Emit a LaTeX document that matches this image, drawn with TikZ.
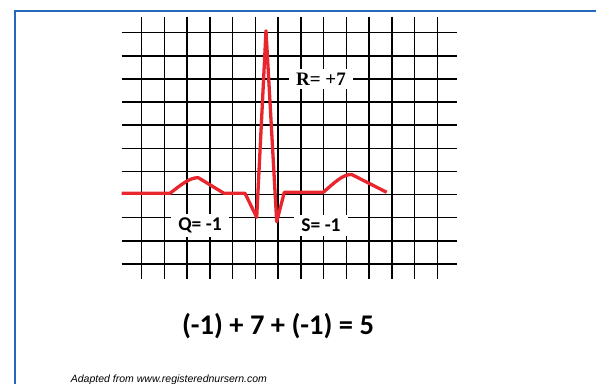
\documentclass[tikz,border=0pt]{standalone}
\usepackage{fontspec}
\usetikzlibrary{calc}
\newfontfamily\calib{Carlito}
\newfontfamily\timesf{Liberation Serif}
\newfontfamily\arialf{Liberation Sans}
\definecolor{ecgR}{RGB}{232,38,45}
\definecolor{frameB}{RGB}{38,104,186}

\begin{document}
\begin{tikzpicture}[x=1pt,y=-1pt,lbl/.style={fill=white,inner xsep=7pt,inner ysep=4pt}]
\useasboundingbox (0,0) rectangle (596,383);
\clip (0,0) rectangle (596,383);
% page frame
\draw[frameB,line width=1.6] (14.7,390)--(14.7,10.7)--(600,10.7);
% grid paper
\foreach \i in {0,...,13}
  \draw[line width=1.5] ({141.7+22.74*\i},16.7)--({141.7+22.74*\i},279);
\foreach \j in {0,...,10}
  \draw[line width=1.5] (121.7,{32.7+23.13*\j})--(456.7,{32.7+23.13*\j});
% P, QRS, T
\draw[ecgR,line width=3.3,line join=round] (121.7,193.3)--(170,193.3)
  .. controls (182,184) and (190,177.5) .. (198.3,177.7)--(224,193.3)--(245,193.3)
  --(256.7,217.3)--(266,30.7)--(276.7,221.7)--(284.3,192.3)--(323.3,192.3)
  .. controls (334,183) and (343,174) .. (351.7,174.5)--(386.7,192.3);
\node[lbl,font=\timesf\bfseries\fontsize{19}{22}\selectfont] (rlab) at (321,79) {R= +7};
\node[lbl,font=\calib\bfseries\fontsize{19.5}{22}\selectfont] (qlab) at (200,225.5) {Q= -1};
\node[lbl,font=\calib\bfseries\fontsize{19.5}{22}\selectfont] (slab) at (321,225.5) {S= -1};
\node[font=\calib\bfseries\fontsize{28.5}{32}\selectfont,anchor=base] (sum) at (278,334.3) {(-1) + 7 + (-1) = 5};
\node[font=\arialf\itshape\fontsize{10.5}{12}\selectfont,anchor=base west,inner sep=0] (src) at (70.7,382) {Adapted from www.registerednursern.com};
\end{tikzpicture}
\end{document}
